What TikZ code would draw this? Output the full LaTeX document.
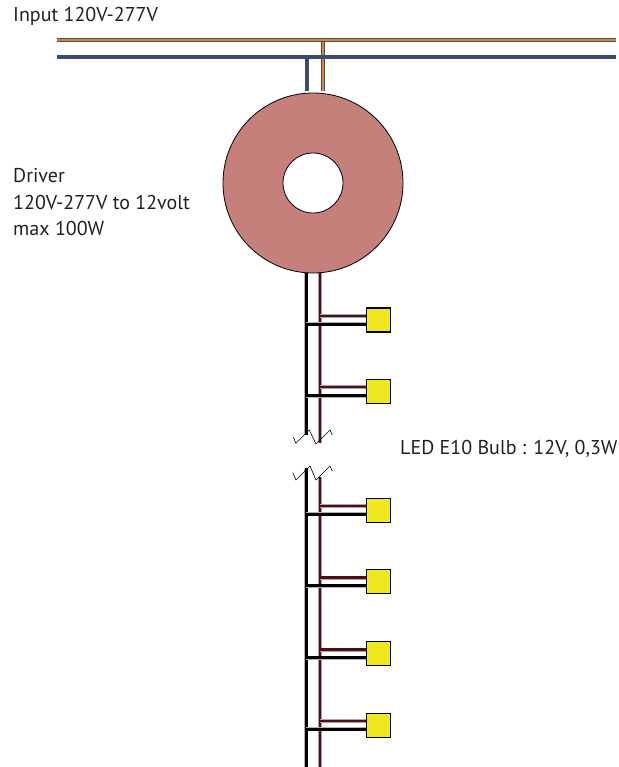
\documentclass[tikz,border=0pt]{standalone}
\usepackage{fontspec}
\setmainfont{PT Sans}
\usepackage{tikz}
\usetikzlibrary{arrows.meta}
\definecolor{driverred}{HTML}{C5807C}
\definecolor{bulbyellow}{HTML}{EFE81F}
\definecolor{wirered}{HTML}{4E0F14}
\definecolor{wireorange}{HTML}{D9853A}
\definecolor{wireblue}{HTML}{28508F}
\definecolor{textgray}{HTML}{231F20}
\tikzset{
	label text/.style={anchor=base west,inner sep=0pt,align=left,text=textgray,font=\fontsize{20}{26}\selectfont},
	bulb/.style={rectangle,draw=black,fill=bulbyellow,line width=1.3pt,minimum size=24pt,inner sep=0pt},
	blackwire/.style={draw=gray!60,double=black,double distance=3pt,line width=.5pt},
	redwire/.style={draw=gray!70,double=wirered,double distance=2.8pt,line width=.6pt},
	orangewire/.style={draw=black!70,double=wireorange,double distance=2.2pt,line width=.8pt},
	bluewire/.style={draw=black!70,double=wireblue,double distance=2.2pt,line width=.8pt},
	breakline/.style={draw=black,line width=.6pt}
}

\begin{document}
\begin{tikzpicture}[x=1pt,y=-1pt]
	\useasboundingbox (0,0) rectangle (618,767);

	\begin{scope}[every node/.style={bulb}]
		\node (1) at (378.5,320) {};
		\node (2) at (378.5,391.5) {};
		\node (3) at (378.5,510.5) {};
		\node (4) at (378.5,581.5) {};
		\node (5) at (378.5,653.5) {};
		\node (6) at (378.5,725.5) {};
	\end{scope}

	% mains
	\coordinate (l1) at (57,40);
	\coordinate (l2) at (616,40);
	\coordinate (n1) at (57,57);
	\coordinate (n2) at (616,57);
	\coordinate (lt) at (323,40);
	\coordinate (lb) at (323,91);
	\coordinate (nt) at (307,57);
	\coordinate (nb) at (307,91);
	\path[orangewire] (lt) -- (lb);
	\path[orangewire] (l1) -- (l2);
	\path[bluewire] (n1) -- (n2);
	\path[bluewire] (nt) -- (nb);

	% low voltage run
	\coordinate (b1) at (306,272);
	\coordinate (b2) at (306,435);
	\coordinate (b3) at (306,468);
	\coordinate (b4) at (306,767);
	\coordinate (r1) at (320,272);
	\coordinate (r2) at (320,443);
	\coordinate (r3) at (320,477);
	\coordinate (r4) at (320,767);

	\path[blackwire] (b1) -- (b2);
	\path[blackwire] (b3) -- (b4);
	\path[redwire] (r1) -- (r2);
	\path[redwire] (r3) -- (r4);

	% branches
	\path[redwire] (320,316) -- (1.west |- 0,316);
	\path[blackwire] (306,324) -- (1.west |- 0,324);
	\path[redwire] (320,387) -- (2.west |- 0,387);
	\path[blackwire] (306,395.5) -- (2.west |- 0,395.5);
	\path[redwire] (320,506) -- (3.west |- 0,506);
	\path[blackwire] (306,514) -- (3.west |- 0,514);
	\path[redwire] (320,577.5) -- (4.west |- 0,577.5);
	\path[blackwire] (306,585.5) -- (4.west |- 0,585.5);
	\path[redwire] (320,649.5) -- (5.west |- 0,649.5);
	\path[blackwire] (306,657.5) -- (5.west |- 0,657.5);
	\path[redwire] (320,721) -- (6.west |- 0,721);
	\path[blackwire] (306,729) -- (6.west |- 0,729);

	% cut marks
	\draw[breakline] (293.3,437.3) -- (296,443.3) -- (309.3,430) -- (316,444) -- (330,430) -- (332.3,435);
	\draw[breakline] (292.7,472.7) -- (296,480) -- (310,466) -- (316,480) -- (330,466) -- (332.3,471);

	\node[circle,draw=black,fill=driverred,line width=.8pt,minimum size=180pt,inner sep=0pt] (driver) at (313,183) {};
	\node[circle,draw=black,fill=white,line width=.8pt,minimum size=60pt,inner sep=0pt] (hole) at (driver.center) {};

	\node[label text] (input) at (13,21.7) {Input 120V-277V};
	\node[label text] (drivertext) at (13,235) {Driver\\120V-277V to 12volt\\max 100W};
	\node[label text] (bulbtext) at (400,454.3) {LED E10 Bulb : 12V, 0,3W};
\end{tikzpicture}
\end{document}
